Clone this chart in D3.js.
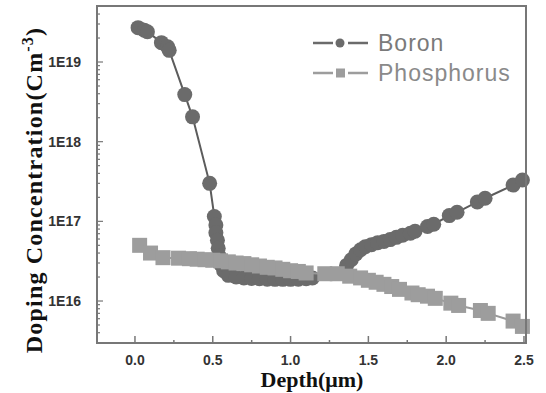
<!DOCTYPE html>
<html>
<head>
<meta charset="utf-8">
<script src="https://cdn.jsdelivr.net/npm/d3@7"></script>
<style>
  body { margin: 0; background: #fff; }
  svg { display: block; }
</style>
</head>
<body>
<svg id="chart" width="546" height="393"></svg>
<script>
// data: depth (um) and doping concentration (cm^-3)
var boronDepth = [0.02, 0.06, 0.08, 0.17, 0.21, 0.22, 0.32, 0.37, 0.48, 0.51, 0.52, 0.52, 0.53, 0.535, 0.54, 0.55, 0.57,
  0.60, 0.65, 0.70, 0.75, 0.80, 0.85, 0.90, 0.95, 1.00, 1.05, 1.10, 1.14,
  1.36, 1.39, 1.42, 1.45, 1.48, 1.52, 1.56, 1.60, 1.64, 1.68, 1.72, 1.77, 1.80, 1.88, 1.92, 2.02, 2.07, 2.20, 2.25, 2.43, 2.49];
var boronConc = [2.7e19, 2.5e19, 2.4e19, 1.75e19, 1.55e19, 1.4e19, 3.9e18, 2.05e18, 3.0e17, 1.15e17, 9.0e16, 7.2e16, 5.8e16, 4.6e16, 3.7e16, 2.9e16, 2.4e16,
  2.1e16, 2.0e16, 1.95e16, 1.92e16, 1.9e16, 1.88e16, 1.87e16, 1.87e16, 1.87e16, 1.88e16, 1.9e16, 1.95e16,
  2.8e16, 3.3e16, 3.9e16, 4.4e16, 4.8e16, 5.1e16, 5.4e16, 5.6e16, 5.9e16, 6.3e16, 6.7e16, 7.1e16, 7.5e16, 8.6e16, 9.2e16, 1.18e17, 1.3e17, 1.75e17, 1.95e17, 2.85e17, 3.3e17];

var phosDepth = [0.03, 0.10, 0.18, 0.28, 0.35, 0.40, 0.45, 0.50, 0.55, 0.60, 0.65, 0.70, 0.75, 0.80, 0.85, 0.90, 0.95, 1.00, 1.05, 1.10,
  1.22, 1.30, 1.38, 1.45, 1.50, 1.55, 1.60, 1.65, 1.70, 1.78, 1.82, 1.88, 1.93, 2.03, 2.08, 2.22, 2.27, 2.43, 2.49];
var phosConc = [5.0e16, 4.0e16, 3.5e16, 3.45e16, 3.4e16, 3.35e16, 3.3e16, 3.25e16, 3.2e16, 3.1e16, 3.0e16, 2.95e16, 2.85e16, 2.75e16, 2.65e16, 2.6e16, 2.5e16, 2.4e16, 2.35e16, 2.25e16,
  2.2e16, 2.2e16, 2.05e16, 1.95e16, 1.82e16, 1.72e16, 1.62e16, 1.52e16, 1.4e16, 1.26e16, 1.2e16, 1.15e16, 1.08e16, 9.4e15, 8.8e15, 7.6e15, 7.0e15, 5.6e15, 4.8e15];

var xTicks = [0, 0.5, 1.0, 1.5, 2.0, 2.5];
var yTicks = [1e16, 1e17, 1e18, 1e19];
var legendNames = ["Boron", "Phosphorus"];

var boron = boronDepth.map(function(d, i) { return {x: d, y: boronConc[i]}; });
var phos = phosDepth.map(function(d, i) { return {x: d, y: phosConc[i]}; });

var plotL = 97, plotT = 6, plotR = 526, plotB = 343;
var svg = d3.select("#chart");

var x = d3.scaleLinear().domain([-0.244, 2.513]).range([plotL, plotR]);
var y = d3.scaleLog().domain([Math.pow(10, 15.473), Math.pow(10, 19.703)]).range([plotB, plotT]);

var frameColor = "#777";

// minor ticks on log axis
var minorY = [];
for (var e = 15; e <= 19; e++) {
  for (var m = 1; m <= 9; m++) {
    var v = m * Math.pow(10, e);
    if (v >= y.domain()[0] && v <= y.domain()[1]) minorY.push(v);
  }
}
svg.append("g").selectAll("line")
  .data(minorY)
  .enter().append("line")
  .attr("x1", plotL).attr("x2", function(d) { return plotL + (yTicks.indexOf(d) >= 0 ? 6 : 3); })
  .attr("y1", function(d) { return y(d); }).attr("y2", function(d) { return y(d); })
  .attr("stroke", frameColor).attr("stroke-width", 1.2);

var minorX = d3.range(0, 2.51, 0.25);
svg.append("g").selectAll("line")
  .data(minorX)
  .enter().append("line")
  .attr("x1", function(d) { return x(d); }).attr("x2", function(d) { return x(d); })
  .attr("y1", plotB).attr("y2", function(d, i) { return plotB - (i % 2 == 0 ? 7 : 3); })
  .attr("stroke", frameColor).attr("stroke-width", 1.5);

// tick labels
svg.append("g").selectAll("text")
  .data(yTicks)
  .enter().append("text")
  .attr("x", 81).attr("y", function(d) { return y(d) + 5; })
  .attr("text-anchor", "end")
  .style("font-family", "Liberation Sans, Arial, sans-serif")
  .style("font-weight", "bold").style("font-size", "14px").style("fill", "#333")
  .text(function(d) { return "1E" + Math.round(Math.log10(d)); });

svg.append("g").selectAll("text")
  .data(xTicks)
  .enter().append("text")
  .attr("x", function(d) { return x(d); }).attr("y", 365)
  .attr("text-anchor", "middle")
  .style("font-family", "Liberation Sans, Arial, sans-serif")
  .style("font-weight", "bold").style("font-size", "14px").style("fill", "#333")
  .text(function(d) { return d.toFixed(1); });

// axis titles
svg.append("text")
  .attr("x", 312).attr("y", 387)
  .attr("text-anchor", "middle")
  .style("font-family", "Liberation Serif, Times New Roman, serif")
  .style("font-weight", "bold").style("font-size", "22px").style("fill", "#111")
  .text("Depth(μm)");

var yt = svg.append("text")
  .attr("transform", "translate(42,190) rotate(-90)")
  .attr("text-anchor", "middle")
  .style("font-family", "Liberation Serif, Times New Roman, serif")
  .style("font-weight", "bold").style("font-size", "24px").style("letter-spacing", "1.2px")
  .style("fill", "#111");
yt.append("tspan").text("Doping Concentration(Cm");
yt.append("tspan").attr("dy", -9).style("font-size", "16px").text("-3");
yt.append("tspan").attr("dy", 9).text(")");

// series
var line = d3.line().x(function(d) { return x(d.x); }).y(function(d) { return y(d.y); });

svg.append("path").datum(boron)
  .attr("d", line).attr("fill", "none")
  .attr("stroke", "#5c5c5c").attr("stroke-width", 2);
svg.append("g").selectAll("circle")
  .data(boron)
  .enter().append("circle")
  .attr("cx", function(d) { return x(d.x); })
  .attr("cy", function(d) { return y(d.y); })
  .attr("r", 7.5)
  .attr("fill", "#6b6b6b");

svg.append("path").datum(phos)
  .attr("d", line).attr("fill", "none")
  .attr("stroke", "#999").attr("stroke-width", 2);
svg.append("g").selectAll("rect")
  .data(phos)
  .enter().append("rect")
  .attr("x", function(d) { return x(d.x) - 7.5; })
  .attr("y", function(d) { return y(d.y) - 7.5; })
  .attr("width", 15).attr("height", 15)
  .attr("fill", "#9d9d9d");

// frame
svg.append("rect")
  .attr("x", plotL).attr("y", plotT)
  .attr("width", plotR - plotL).attr("height", plotB - plotT)
  .attr("fill", "none").attr("stroke", frameColor).attr("stroke-width", 2);

// legend
var legend = svg.append("g").selectAll("g")
  .data(legendNames)
  .enter().append("g")
  .attr("transform", function(d, i) { return "translate(313," + (43 + i * 30) + ")"; });
legend.append("line")
  .attr("x1", 0).attr("x2", 55).attr("y1", 0).attr("y2", 0)
  .attr("stroke", function(d, i) { return i == 0 ? "#6b6b6b" : "#9d9d9d"; })
  .attr("stroke-width", 2.5)
  .attr("stroke-dasharray", "20,15,20");
legend.filter(function(d, i) { return i == 0; }).append("circle")
  .attr("cx", 27).attr("cy", 0).attr("r", 4.5).attr("fill", "#6b6b6b");
legend.filter(function(d, i) { return i == 1; }).append("rect")
  .attr("x", 23).attr("y", -4.5).attr("width", 9).attr("height", 9).attr("fill", "#9d9d9d");
legend.append("text")
  .attr("x", 65).attr("y", 8)
  .style("font-family", "Liberation Sans, Arial, sans-serif")
  .style("font-size", "23px").style("letter-spacing", "1px")
  .style("fill", function(d, i) { return i == 0 ? "#7a7a7a" : "#8a8a8a"; })
  .text(function(d) { return d; });
</script>
</body>
</html>
